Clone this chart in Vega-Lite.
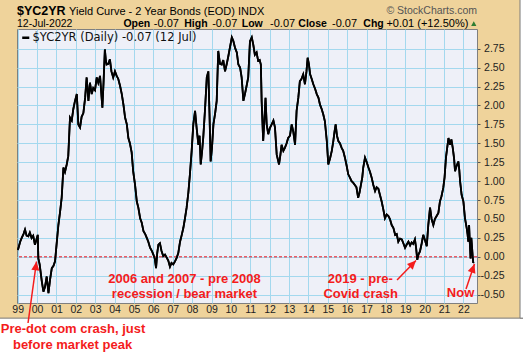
{
  "$schema": "https://vega.github.io/schema/vega-lite/v6.json",
  "width": 460,
  "height": 274,
  "autosize": {"type": "none"},
  "padding": {"left": 17, "top": 29, "right": 46, "bottom": 51},
  "background": "#efd39b",
  "config": {
    "view": {"fill": "#eef0f8", "stroke": "#7f7f7f", "strokeWidth": 1},
    "font": "Liberation Sans",
    "axis": {"labelOverlap": false, "labelSeparation": 0, "title": null},
    "axisY": {"labelOverlap": false, "tickCount": 14}
  },
  "datasets": {
    "one": [{}],
    "series": [
      {"date": "1999-01-05", "value": 0.09}, {"date": "1999-02-17", "value": 0.20}, {"date": "1999-03-18", "value": 0.25}, {"date": "1999-04-20", "value": 0.30},
      {"date": "1999-05-19", "value": 0.36}, {"date": "1999-06-18", "value": 0.28}, {"date": "1999-07-20", "value": 0.27}, {"date": "1999-08-18", "value": 0.32},
      {"date": "1999-09-20", "value": 0.25}, {"date": "1999-10-20", "value": 0.28}, {"date": "1999-11-22", "value": 0.16}, {"date": "1999-12-17", "value": 0.22},
      {"date": "2000-01-14", "value": 0.29}, {"date": "2000-01-25", "value": -0.02}, {"date": "2000-02-19", "value": -0.10}, {"date": "2000-03-30", "value": -0.32},
      {"date": "2000-04-30", "value": -0.46}, {"date": "2000-05-29", "value": -0.40}, {"date": "2000-07-01", "value": -0.26}, {"date": "2000-08-03", "value": -0.48},
      {"date": "2000-09-02", "value": -0.30}, {"date": "2000-10-05", "value": -0.15}, {"date": "2000-11-06", "value": -0.12}, {"date": "2000-12-05", "value": -0.06},
      {"date": "2001-01-08", "value": 0.20}, {"date": "2001-02-06", "value": 0.42}, {"date": "2001-03-11", "value": 0.60}, {"date": "2001-04-09", "value": 0.78},
      {"date": "2001-05-12", "value": 1.18}, {"date": "2001-06-10", "value": 1.12}, {"date": "2001-07-13", "value": 1.22}, {"date": "2001-08-11", "value": 1.33},
      {"date": "2001-09-13", "value": 1.84}, {"date": "2001-10-16", "value": 1.80}, {"date": "2001-11-14", "value": 1.95}, {"date": "2001-12-13", "value": 2.05},
      {"date": "2002-01-19", "value": 2.15}, {"date": "2002-02-17", "value": 1.75}, {"date": "2002-03-21", "value": 1.71}, {"date": "2002-04-20", "value": 1.85},
      {"date": "2002-05-23", "value": 1.90}, {"date": "2002-06-25", "value": 2.10}, {"date": "2002-07-24", "value": 2.37}, {"date": "2002-08-26", "value": 2.06},
      {"date": "2002-09-24", "value": 2.30}, {"date": "2002-10-27", "value": 2.15}, {"date": "2002-11-25", "value": 2.23}, {"date": "2002-12-28", "value": 2.20},
      {"date": "2003-01-30", "value": 2.37}, {"date": "2003-02-28", "value": 2.30}, {"date": "2003-04-02", "value": 2.39}, {"date": "2003-05-16", "value": 1.97},
      {"date": "2003-06-07", "value": 2.30}, {"date": "2003-07-02", "value": 2.74}, {"date": "2003-07-20", "value": 2.60}, {"date": "2003-08-04", "value": 2.54},
      {"date": "2003-09-06", "value": 2.55}, {"date": "2003-10-05", "value": 2.61}, {"date": "2003-11-03", "value": 2.45}, {"date": "2003-12-06", "value": 2.37},
      {"date": "2004-01-08", "value": 2.45}, {"date": "2004-02-10", "value": 2.39}, {"date": "2004-03-11", "value": 2.35}, {"date": "2004-04-13", "value": 2.26},
      {"date": "2004-05-16", "value": 2.15}, {"date": "2004-06-18", "value": 2.00}, {"date": "2004-07-17", "value": 1.84}, {"date": "2004-08-19", "value": 1.75},
      {"date": "2004-09-17", "value": 1.57}, {"date": "2004-10-16", "value": 1.50}, {"date": "2004-11-18", "value": 1.38}, {"date": "2004-12-17", "value": 1.13},
      {"date": "2005-01-21", "value": 0.95}, {"date": "2005-02-23", "value": 0.73}, {"date": "2005-03-24", "value": 0.65}, {"date": "2005-04-27", "value": 0.51},
      {"date": "2005-05-27", "value": 0.45}, {"date": "2005-06-29", "value": 0.34}, {"date": "2005-08-01", "value": 0.30}, {"date": "2005-08-30", "value": 0.25},
      {"date": "2005-09-28", "value": 0.20}, {"date": "2005-10-31", "value": 0.12}, {"date": "2005-12-03", "value": 0.08}, {"date": "2006-01-01", "value": 0.03},
      {"date": "2006-01-27", "value": -0.02}, {"date": "2006-02-21", "value": -0.15}, {"date": "2006-03-15", "value": 0.05}, {"date": "2006-04-06", "value": 0.16},
      {"date": "2006-05-05", "value": 0.18}, {"date": "2006-06-03", "value": 0.08}, {"date": "2006-07-06", "value": 0.01}, {"date": "2006-08-08", "value": 0.03},
      {"date": "2006-09-10", "value": -0.01}, {"date": "2006-10-09", "value": -0.05}, {"date": "2006-11-10", "value": -0.13}, {"date": "2006-12-09", "value": -0.08},
      {"date": "2007-01-11", "value": -0.10}, {"date": "2007-02-13", "value": -0.06}, {"date": "2007-03-18", "value": -0.01}, {"date": "2007-04-16", "value": 0.05},
      {"date": "2007-05-19", "value": 0.20}, {"date": "2007-06-17", "value": 0.28}, {"date": "2007-07-20", "value": 0.38}, {"date": "2007-08-18", "value": 0.50},
      {"date": "2007-09-20", "value": 0.65}, {"date": "2007-10-23", "value": 0.85}, {"date": "2007-11-21", "value": 1.09}, {"date": "2007-12-24", "value": 1.40},
      {"date": "2008-01-24", "value": 1.75}, {"date": "2008-02-26", "value": 1.93}, {"date": "2008-03-27", "value": 1.70}, {"date": "2008-04-29", "value": 1.48},
      {"date": "2008-05-21", "value": 1.60}, {"date": "2008-06-12", "value": 1.22}, {"date": "2008-07-08", "value": 1.40}, {"date": "2008-07-30", "value": 1.58},
      {"date": "2008-09-01", "value": 1.95}, {"date": "2008-10-04", "value": 2.37}, {"date": "2008-11-02", "value": 2.45}, {"date": "2008-11-24", "value": 1.90},
      {"date": "2008-12-16", "value": 1.26}, {"date": "2009-01-11", "value": 1.45}, {"date": "2009-02-06", "value": 1.75}, {"date": "2009-03-11", "value": 1.90},
      {"date": "2009-04-09", "value": 2.06}, {"date": "2009-05-08", "value": 2.72}, {"date": "2009-06-10", "value": 2.55}, {"date": "2009-07-13", "value": 2.54},
      {"date": "2009-08-11", "value": 2.60}, {"date": "2009-09-13", "value": 2.45}, {"date": "2009-10-16", "value": 2.55}, {"date": "2009-11-14", "value": 2.65},
      {"date": "2009-12-13", "value": 2.76}, {"date": "2010-01-19", "value": 2.90}, {"date": "2010-02-17", "value": 2.85}, {"date": "2010-03-21", "value": 2.76},
      {"date": "2010-04-23", "value": 2.70}, {"date": "2010-05-22", "value": 2.54}, {"date": "2010-06-24", "value": 2.50}, {"date": "2010-07-23", "value": 2.37},
      {"date": "2010-08-25", "value": 2.06}, {"date": "2010-09-23", "value": 2.15}, {"date": "2010-10-22", "value": 2.25}, {"date": "2010-11-24", "value": 2.37},
      {"date": "2010-12-27", "value": 2.85}, {"date": "2011-01-30", "value": 2.90}, {"date": "2011-02-28", "value": 2.80}, {"date": "2011-03-29", "value": 2.67},
      {"date": "2011-05-01", "value": 2.70}, {"date": "2011-05-30", "value": 2.59}, {"date": "2011-06-28", "value": 2.60}, {"date": "2011-07-20", "value": 2.54},
      {"date": "2011-08-04", "value": 2.06}, {"date": "2011-08-18", "value": 1.80}, {"date": "2011-09-02", "value": 1.53}, {"date": "2011-09-24", "value": 1.80},
      {"date": "2011-10-16", "value": 2.10}, {"date": "2011-11-07", "value": 1.75}, {"date": "2011-12-06", "value": 1.62}, {"date": "2012-01-06", "value": 1.70},
      {"date": "2012-02-09", "value": 1.75}, {"date": "2012-03-13", "value": 1.80}, {"date": "2012-04-11", "value": 1.71}, {"date": "2012-05-14", "value": 1.35},
      {"date": "2012-06-27", "value": 1.22}, {"date": "2012-07-23", "value": 1.35}, {"date": "2012-08-14", "value": 1.48}, {"date": "2012-09-16", "value": 1.40},
      {"date": "2012-10-15", "value": 1.44}, {"date": "2012-11-17", "value": 1.50}, {"date": "2012-12-16", "value": 1.57}, {"date": "2013-01-19", "value": 1.60},
      {"date": "2013-02-21", "value": 1.75}, {"date": "2013-03-23", "value": 1.65}, {"date": "2013-04-25", "value": 1.48}, {"date": "2013-05-24", "value": 1.93},
      {"date": "2013-06-25", "value": 2.10}, {"date": "2013-07-24", "value": 2.32}, {"date": "2013-08-23", "value": 2.35}, {"date": "2013-09-25", "value": 2.41},
      {"date": "2013-10-28", "value": 2.28}, {"date": "2013-11-26", "value": 2.45}, {"date": "2013-12-18", "value": 2.63}, {"date": "2014-01-10", "value": 2.55},
      {"date": "2014-02-03", "value": 2.41}, {"date": "2014-03-05", "value": 2.35}, {"date": "2014-04-04", "value": 2.28}, {"date": "2014-05-07", "value": 2.22},
      {"date": "2014-06-08", "value": 2.15}, {"date": "2014-07-10", "value": 2.10}, {"date": "2014-08-08", "value": 2.01}, {"date": "2014-09-10", "value": 1.95},
      {"date": "2014-10-09", "value": 1.88}, {"date": "2014-11-08", "value": 1.79}, {"date": "2014-12-14", "value": 1.53}, {"date": "2015-01-11", "value": 1.22},
      {"date": "2015-02-13", "value": 1.30}, {"date": "2015-03-18", "value": 1.40}, {"date": "2015-04-16", "value": 1.53}, {"date": "2015-05-08", "value": 1.65},
      {"date": "2015-05-30", "value": 1.75}, {"date": "2015-06-24", "value": 1.60}, {"date": "2015-07-20", "value": 1.53}, {"date": "2015-08-18", "value": 1.50},
      {"date": "2015-09-20", "value": 1.44}, {"date": "2015-10-19", "value": 1.40}, {"date": "2015-11-21", "value": 1.31}, {"date": "2015-12-24", "value": 1.20},
      {"date": "2016-01-22", "value": 1.09}, {"date": "2016-02-21", "value": 1.05}, {"date": "2016-03-25", "value": 1.00}, {"date": "2016-04-23", "value": 0.98},
      {"date": "2016-05-26", "value": 0.95}, {"date": "2016-06-24", "value": 0.92}, {"date": "2016-07-27", "value": 0.78}, {"date": "2016-08-22", "value": 0.85},
      {"date": "2016-09-17", "value": 0.95}, {"date": "2016-10-13", "value": 1.05}, {"date": "2016-10-31", "value": 1.18}, {"date": "2016-12-03", "value": 1.31},
      {"date": "2017-01-05", "value": 1.25}, {"date": "2017-02-06", "value": 1.18}, {"date": "2017-03-08", "value": 1.12}, {"date": "2017-04-10", "value": 1.04},
      {"date": "2017-05-09", "value": 0.95}, {"date": "2017-06-11", "value": 0.87}, {"date": "2017-07-10", "value": 0.92}, {"date": "2017-08-12", "value": 0.90},
      {"date": "2017-09-10", "value": 0.82}, {"date": "2017-10-13", "value": 0.73}, {"date": "2017-11-15", "value": 0.62}, {"date": "2017-12-14", "value": 0.51},
      {"date": "2018-01-16", "value": 0.56}, {"date": "2018-02-17", "value": 0.54}, {"date": "2018-03-18", "value": 0.50}, {"date": "2018-04-20", "value": 0.42},
      {"date": "2018-05-23", "value": 0.38}, {"date": "2018-06-25", "value": 0.29}, {"date": "2018-07-24", "value": 0.30}, {"date": "2018-08-23", "value": 0.20},
      {"date": "2018-09-25", "value": 0.24}, {"date": "2018-10-28", "value": 0.23}, {"date": "2018-11-26", "value": 0.18}, {"date": "2018-12-28", "value": 0.12},
      {"date": "2019-01-26", "value": 0.16}, {"date": "2019-03-01", "value": 0.20}, {"date": "2019-04-02", "value": 0.15}, {"date": "2019-05-01", "value": 0.19},
      {"date": "2019-05-30", "value": 0.17}, {"date": "2019-07-02", "value": 0.23}, {"date": "2019-07-24", "value": 0.12}, {"date": "2019-08-15", "value": -0.04},
      {"date": "2019-09-06", "value": 0.03}, {"date": "2019-10-05", "value": 0.07}, {"date": "2019-11-07", "value": 0.18}, {"date": "2019-12-06", "value": 0.29},
      {"date": "2020-01-08", "value": 0.22}, {"date": "2020-02-10", "value": 0.14}, {"date": "2020-03-10", "value": 0.42}, {"date": "2020-04-12", "value": 0.65},
      {"date": "2020-05-11", "value": 0.50}, {"date": "2020-06-13", "value": 0.42}, {"date": "2020-07-12", "value": 0.50}, {"date": "2020-08-14", "value": 0.54},
      {"date": "2020-09-16", "value": 0.58}, {"date": "2020-10-15", "value": 0.73}, {"date": "2020-11-14", "value": 0.80}, {"date": "2020-12-17", "value": 0.91},
      {"date": "2021-01-11", "value": 1.05}, {"date": "2021-02-06", "value": 1.31}, {"date": "2021-03-03", "value": 1.45}, {"date": "2021-03-25", "value": 1.57},
      {"date": "2021-04-23", "value": 1.48}, {"date": "2021-05-19", "value": 1.55}, {"date": "2021-06-14", "value": 1.44}, {"date": "2021-07-09", "value": 1.30},
      {"date": "2021-07-27", "value": 1.13}, {"date": "2021-08-25", "value": 1.20}, {"date": "2021-09-27", "value": 1.26}, {"date": "2021-10-15", "value": 1.15},
      {"date": "2021-10-30", "value": 1.00}, {"date": "2021-11-28", "value": 0.82}, {"date": "2022-01-01", "value": 0.73}, {"date": "2022-01-30", "value": 0.51},
      {"date": "2022-03-04", "value": 0.38}, {"date": "2022-03-20", "value": 0.30}, {"date": "2022-04-03", "value": 0.20}, {"date": "2022-04-18", "value": 0.42},
      {"date": "2022-05-02", "value": 0.18}, {"date": "2022-05-16", "value": -0.02}, {"date": "2022-05-30", "value": 0.25}, {"date": "2022-06-13", "value": 0.12},
      {"date": "2022-06-27", "value": -0.02}, {"date": "2022-07-06", "value": -0.08}, {"date": "2022-07-12", "value": -0.07}
    ],
    "notes": [
      {"date": "2007-08-11", "value": -0.343, "label": "2006 and 2007 - pre 2008"},
      {"date": "2007-08-11", "value": -0.539, "label": "recession / bear market"},
      {"date": "2016-09-05", "value": -0.343, "label": "2019 - pre-"},
      {"date": "2016-09-12", "value": -0.541, "label": "Covid crash"},
      {"date": "2021-11-08", "value": -0.528, "label": "Now"},
      {"date": "2001-11-09", "value": -1.008, "label": "Pre-dot com crash, just"},
      {"date": "2001-10-31", "value": -1.214, "label": "before market peak"}
    ],
    "arrows": [
      {"name": "dotcom", "date": "1999-07-15", "value": -0.874, "date2": "1999-12-22", "value2": -0.062},
      {"name": "covid", "date": "2018-07-30", "value": -0.307, "date2": "2019-07-22", "value2": -0.049},
      {"name": "now", "date": "2022-02-19", "value": -0.426, "date2": "2022-07-28", "value2": -0.095}
    ]
  },
  "layer": [
    {
      "data": {"name": "series"},
      "mark": {"type": "line", "strokeWidth": 1.8, "interpolate": "linear"},
      "encoding": {
        "x": {
          "field": "date", "type": "temporal",
          "scale": {"domain": [{"year": 1998, "month": 12, "date": 19}, {"year": 2022, "month": 9, "date": 14}], "nice": false},
          "axis": {
            "title": null, "format": "%y", "tickCount": {"interval": "year", "step": 1},
            "labelFontSize": 10.5, "labelColor": "#222222", "ticks": false, "domain": false,
            "labelPadding": 9.5, "labelBaseline": "alphabetic", "labelFlush": false, "labelOverlap": false,
            "gridColor": "#a3d8ee", "gridOpacity": 1, "gridWidth": 1
          }
        },
        "y": {
          "field": "value", "type": "quantitative",
          "scale": {"domain": [-0.61, 3.01], "nice": false, "zero": false},
          "axis": {
            "title": null, "orient": "right",
            "values": [-0.5, -0.25, 0, 0.25, 0.5, 0.75, 1, 1.25, 1.5, 1.75, 2, 2.25, 2.5, 2.75],
            "format": ".2f", "labelExpr": "replace(datum.label, '\u2212', '-')",
            "labelAlign": "right", "labelPadding": 24, "tickSize": 3, "tickColor": "#555555",
            "labelOverlap": false, "labelFlush": false,
            "domain": false, "labelFontSize": 10.5, "labelColor": "#222222",
            "gridColor": "#a3d8ee", "gridOpacity": 1, "gridWidth": 1
          }
        },
        "color": {
          "datum": "$YC2YR (Daily) -0.07 (12 Jul)",
          "scale": {"range": ["#000000"]},
          "legend": {
            "title": null, "orient": "top-left", "offset": 2, "padding": 1, "labelLimit": 400,
            "symbolType": "stroke", "symbolStrokeWidth": 2.5, "symbolSize": 50,
            "labelFont": "DejaVu Sans", "labelFontSize": 11.5, "labelColor": "#111111", "labelOffset": 1
          }
        }
      }
    },
    {
      "data": {"name": "one"},
      "mark": {"type": "rect", "fill": "#ffffff", "stroke": "#7a7a7a", "strokeWidth": 1, "clip": false},
      "encoding": {
        "x": {"datum": {"year": 1997, "month": 1, "date": 1}, "type": "temporal"},
        "x2": {"datum": {"year": 2026, "month": 6, "date": 1}},
        "y": {"datum": -0.81, "type": "quantitative"},
        "y2": {"datum": -1.7}
      }
    },
    {
      "data": {"name": "one"},
      "mark": {"type": "rect", "fill": "#ffffff", "stroke": "#7a7a7a", "strokeWidth": 1, "clip": false},
      "encoding": {
        "x": {"datum": {"year": 2024, "month": 12, "date": 3}, "type": "temporal"},
        "x2": {"datum": {"year": 2026, "month": 6, "date": 1}},
        "y": {"datum": 3.8, "type": "quantitative"},
        "y2": {"datum": -0.81}
      }
    },
    {
      "data": {"name": "one"},
      "mark": {"type": "rule", "color": "#e8141e", "strokeDash": [3, 2], "strokeWidth": 1},
      "encoding": {"y": {"datum": 0, "type": "quantitative"}}
    },
    {
      "data": {"name": "series"},
      "mark": {"type": "line", "strokeWidth": 1.8, "color": "#000000"},
      "encoding": {
        "x": {"field": "date", "type": "temporal"},
        "y": {"field": "value", "type": "quantitative"}
      }
    },
    {
      "data": {"name": "notes"},
      "mark": {"type": "text", "color": "#f41c1c", "fontWeight": "bold", "fontSize": 13, "align": "center", "baseline": "alphabetic", "clip": false},
      "encoding": {
        "x": {"field": "date", "type": "temporal"},
        "y": {"field": "value", "type": "quantitative"},
        "text": {"field": "label"}
      }
    },
    {
      "data": {"name": "arrows"},
      "mark": {"type": "rule", "color": "#f41c1c", "strokeWidth": 1.5, "clip": false},
      "encoding": {
        "x": {"field": "date", "type": "temporal"},
        "y": {"field": "value", "type": "quantitative"},
        "x2": {"field": "date2"},
        "y2": {"field": "value2"}
      }
    },
    {
      "data": {"name": "arrows"},
      "transform": [{"filter": "datum.name == 'dotcom'"}],
      "mark": {"type": "point", "shape": "M0,0L-1,2.2L1,2.2Z", "filled": true, "color": "#f41c1c", "opacity": 1, "size": 64, "angle": 8, "clip": false},
      "encoding": {"x": {"field": "date2", "type": "temporal"}, "y": {"field": "value2", "type": "quantitative"}}
    },
    {
      "data": {"name": "arrows"},
      "transform": [{"filter": "datum.name == 'covid'"}],
      "mark": {"type": "point", "shape": "M0,0L-1,2.2L1,2.2Z", "filled": true, "color": "#f41c1c", "opacity": 1, "size": 64, "angle": 44, "clip": false},
      "encoding": {"x": {"field": "date2", "type": "temporal"}, "y": {"field": "value2", "type": "quantitative"}}
    },
    {
      "data": {"name": "arrows"},
      "transform": [{"filter": "datum.name == 'now'"}],
      "mark": {"type": "point", "shape": "M0,0L-1,2.2L1,2.2Z", "filled": true, "color": "#f41c1c", "opacity": 1, "size": 64, "angle": 19, "clip": false},
      "encoding": {"x": {"field": "date2", "type": "temporal"}, "y": {"field": "value2", "type": "quantitative"}}
    },
    {
      "data": {"name": "one"},
      "mark": {"type": "text", "text": "$YC2YR", "fontWeight": "bold", "fontSize": 12.5, "color": "#000000", "align": "left", "baseline": "alphabetic", "clip": false},
      "encoding": {"x": {"datum": {"year": 1998, "month": 12, "date": 19}, "type": "temporal"}, "y": {"datum": 3.195, "type": "quantitative"}}
    },
    {
      "data": {"name": "one"},
      "mark": {"type": "text", "text": "Yield Curve - 2 Year Bonds (EOD)  INDX", "fontSize": 11, "color": "#000000", "align": "left", "baseline": "alphabetic", "clip": false},
      "encoding": {"x": {"datum": {"year": 2001, "month": 8, "date": 26}, "type": "temporal"}, "y": {"datum": 3.2, "type": "quantitative"}}
    },
    {
      "data": {"name": "one"},
      "mark": {"type": "text", "text": "© StockCharts.com", "fontSize": 10.5, "color": "#555555", "align": "right", "baseline": "alphabetic", "clip": false},
      "encoding": {"x": {"datum": {"year": 2022, "month": 9, "date": 14}, "type": "temporal"}, "y": {"datum": 3.212, "type": "quantitative"}}
    },
    {
      "data": {"name": "one"},
      "mark": {"type": "text", "text": "12-Jul-2022", "fontSize": 10.5, "color": "#000000", "align": "left", "baseline": "alphabetic", "clip": false},
      "encoding": {"x": {"datum": {"year": 1998, "month": 12, "date": 19}, "type": "temporal"}, "y": {"datum": 3.04, "type": "quantitative"}}
    },
    {
      "data": {"name": "one"},
      "mark": {"type": "text", "text": "Open", "fontWeight": "bold", "fontSize": 10.5, "color": "#000000", "align": "left", "baseline": "alphabetic", "clip": false},
      "encoding": {"x": {"datum": {"year": 2004, "month": 6, "date": 15}, "type": "temporal"}, "y": {"datum": 3.04, "type": "quantitative"}}
    },
    {
      "data": {"name": "one"},
      "mark": {"type": "text", "text": "-0.07", "fontSize": 11, "color": "#000000", "align": "left", "baseline": "alphabetic", "clip": false},
      "encoding": {"x": {"datum": {"year": 2006, "month": 1, "date": 10}, "type": "temporal"}, "y": {"datum": 3.04, "type": "quantitative"}}
    },
    {
      "data": {"name": "one"},
      "mark": {"type": "text", "text": "High", "fontWeight": "bold", "fontSize": 10.5, "color": "#000000", "align": "left", "baseline": "alphabetic", "clip": false},
      "encoding": {"x": {"datum": {"year": 2007, "month": 8, "date": 7}, "type": "temporal"}, "y": {"datum": 3.04, "type": "quantitative"}}
    },
    {
      "data": {"name": "one"},
      "mark": {"type": "text", "text": "-0.07", "fontSize": 11, "color": "#000000", "align": "left", "baseline": "alphabetic", "clip": false},
      "encoding": {"x": {"datum": {"year": 2009, "month": 1, "date": 14}, "type": "temporal"}, "y": {"datum": 3.04, "type": "quantitative"}}
    },
    {
      "data": {"name": "one"},
      "mark": {"type": "text", "text": "Low", "fontWeight": "bold", "fontSize": 10.5, "color": "#000000", "align": "left", "baseline": "alphabetic", "clip": false},
      "encoding": {"x": {"datum": {"year": 2010, "month": 7, "date": 25}, "type": "temporal"}, "y": {"datum": 3.04, "type": "quantitative"}}
    },
    {
      "data": {"name": "one"},
      "mark": {"type": "text", "text": "-0.07", "fontSize": 11, "color": "#000000", "align": "left", "baseline": "alphabetic", "clip": false},
      "encoding": {"x": {"datum": {"year": 2012, "month": 1, "date": 10}, "type": "temporal"}, "y": {"datum": 3.04, "type": "quantitative"}}
    },
    {
      "data": {"name": "one"},
      "mark": {"type": "text", "text": "Close", "fontWeight": "bold", "fontSize": 10.5, "color": "#000000", "align": "left", "baseline": "alphabetic", "clip": false},
      "encoding": {"x": {"datum": {"year": 2013, "month": 6, "date": 26}, "type": "temporal"}, "y": {"datum": 3.04, "type": "quantitative"}}
    },
    {
      "data": {"name": "one"},
      "mark": {"type": "text", "text": "-0.07", "fontSize": 11, "color": "#000000", "align": "left", "baseline": "alphabetic", "clip": false},
      "encoding": {"x": {"datum": {"year": 2015, "month": 3, "date": 22}, "type": "temporal"}, "y": {"datum": 3.04, "type": "quantitative"}}
    },
    {
      "data": {"name": "one"},
      "mark": {"type": "text", "text": "Chg", "fontWeight": "bold", "fontSize": 10.5, "color": "#000000", "align": "left", "baseline": "alphabetic", "clip": false},
      "encoding": {"x": {"datum": {"year": 2016, "month": 11, "date": 2}, "type": "temporal"}, "y": {"datum": 3.04, "type": "quantitative"}}
    },
    {
      "data": {"name": "one"},
      "mark": {"type": "text", "text": "+0.01 (+12.50%)", "fontSize": 11, "color": "#000000", "align": "left", "baseline": "alphabetic", "clip": false},
      "encoding": {"x": {"datum": {"year": 2018, "month": 1, "date": 10}, "type": "temporal"}, "y": {"datum": 3.04, "type": "quantitative"}}
    },
    {
      "data": {"name": "one"},
      "mark": {"type": "point", "shape": "triangle-up", "filled": true, "color": "#2e7d32", "opacity": 1, "size": 28, "clip": false},
      "encoding": {"x": {"datum": {"year": 2022, "month": 7, "date": 15}, "type": "temporal"}, "y": {"datum": 3.081, "type": "quantitative"}}
    }
  ]
}
